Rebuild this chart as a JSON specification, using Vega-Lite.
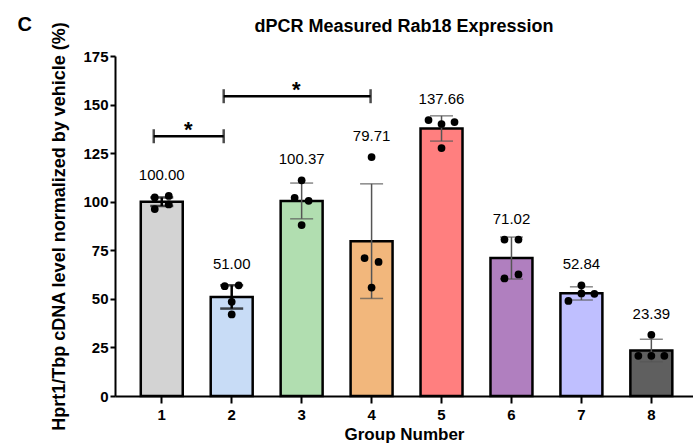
{
  "$schema": "https://vega.github.io/schema/vega-lite/v6.json",
  "width": 578,
  "height": 340,
  "autosize": {"type": "none"},
  "padding": {"left": 115, "top": 56, "right": 0, "bottom": 48},
  "background": "white",
  "title": {"text": "dPCR Measured Rab18 Expression", "font": "Liberation Sans", "fontSize": 18, "fontWeight": "bold", "color": "black", "anchor": "middle", "frame": "group", "offset": -35, "baseline": "alphabetic"},
  "config": {
    "view": {"stroke": null},
    "axis": {"labelFont": "Liberation Sans", "titleFont": "Liberation Sans", "labelColor": "black", "titleColor": "black", "domainColor": "black", "tickColor": "black", "grid": false}
  },
  "datasets": {
    "summary": [
      {"group": 1, "mean": 100.00, "lo": 97.8, "hi": 102.2},
      {"group": 2, "mean": 51.00, "lo": 45.0, "hi": 57.0},
      {"group": 3, "mean": 100.37, "lo": 91.2, "hi": 109.6},
      {"group": 4, "mean": 79.71, "lo": 50.2, "hi": 109.2},
      {"group": 5, "mean": 137.66, "lo": 131.2, "hi": 144.2},
      {"group": 6, "mean": 71.02, "lo": 60.2, "hi": 81.8},
      {"group": 7, "mean": 52.84, "lo": 49.4, "hi": 56.2},
      {"group": 8, "mean": 23.39, "lo": 17.6, "hi": 29.2}
    ],
    "points": [
      {"group": 1, "value": 102.2, "slot": -1},
      {"group": 1, "value": 103.0, "slot": 1},
      {"group": 1, "value": 96.2, "slot": -1},
      {"group": 1, "value": 98.6, "slot": 1},
      {"group": 2, "value": 56.5, "slot": -1},
      {"group": 2, "value": 57.0, "slot": 1},
      {"group": 2, "value": 48.5, "slot": 0},
      {"group": 2, "value": 42.0, "slot": 0},
      {"group": 3, "value": 111.0, "slot": 0},
      {"group": 3, "value": 102.0, "slot": -1},
      {"group": 3, "value": 100.48, "slot": 1},
      {"group": 3, "value": 88.0, "slot": 0},
      {"group": 4, "value": 123.0, "slot": 0},
      {"group": 4, "value": 71.0, "slot": -1},
      {"group": 4, "value": 69.0, "slot": 1},
      {"group": 4, "value": 55.84, "slot": 0},
      {"group": 5, "value": 142.0, "slot": -2},
      {"group": 5, "value": 140.0, "slot": 0},
      {"group": 5, "value": 141.0, "slot": 2},
      {"group": 5, "value": 127.64, "slot": 0},
      {"group": 6, "value": 80.5, "slot": -1},
      {"group": 6, "value": 80.5, "slot": 1},
      {"group": 6, "value": 60.5, "slot": -1},
      {"group": 6, "value": 62.58, "slot": 1},
      {"group": 7, "value": 57.0, "slot": 0},
      {"group": 7, "value": 52.8, "slot": 0},
      {"group": 7, "value": 52.6, "slot": 2},
      {"group": 7, "value": 48.96, "slot": -2},
      {"group": 8, "value": 31.5, "slot": 0},
      {"group": 8, "value": 20.7, "slot": -2},
      {"group": 8, "value": 20.7, "slot": 0},
      {"group": 8, "value": 20.66, "slot": 2}
    ],
    "brackets": [
      {"cmp": "A", "from": 1, "to": 2, "y": 133.7, "sig": "*"},
      {"cmp": "B", "from": 2, "to": 4, "y": 154.3, "sig": "*"}
    ],
    "panel": [{"label": "C"}]
  },
  "layer": [
    {
      "data": {"name": "summary"},
      "mark": {"type": "bar", "stroke": "black", "strokeWidth": 2.5},
      "encoding": {
        "x": {"field": "group", "type": "ordinal",
              "scale": {"domain": [1, 2, 3, 4, 5, 6, 7, 8], "paddingInner": 0.4, "paddingOuter": 0.332, "align": 0.555},
              "axis": {"title": "Group Number", "titleFontSize": 17, "titleFontWeight": "bold", "labelFontSize": 15, "labelFontWeight": "bold", "labelAngle": 0, "tickSize": 7, "tickWidth": 2, "domainWidth": 2, "labelPadding": 4, "titlePadding": 4}},
        "y": {"field": "mean", "type": "quantitative",
              "scale": {"domain": [0, 175], "nice": false, "zero": true},
              "axis": {"title": "Hprt1/Tbp cDNA level normalized by vehicle (%)", "values": [0, 25, 50, 75, 100, 125, 150, 175], "titleFontSize": 18, "titleFontWeight": "bold", "labelFontSize": 15, "labelFontWeight": "bold", "tickSize": 5, "tickWidth": 2, "domainWidth": 2, "labelPadding": 2, "titlePadding": 14}},
        "color": {"field": "group", "type": "nominal", "legend": null,
                  "scale": {"domain": [1, 2, 3, 4, 5, 6, 7, 8], "range": ["#d3d3d3", "#c8dcf6", "#b1deb0", "#f2b77c", "#ff7f7f", "#b07fbf", "#bfbfff", "#5f5f5f"]}}
      }
    },
    {
      "data": {"name": "summary"},
      "transform": [{"filter": "datum.group <= 2"}],
      "mark": {"type": "rule", "color": "black", "strokeWidth": 2.5},
      "encoding": {
        "x": {"field": "group", "type": "ordinal"},
        "y": {"field": "lo", "type": "quantitative"},
        "y2": {"field": "hi"}
      }
    },
    {
      "data": {"name": "summary"},
      "transform": [{"filter": "datum.group > 2"}],
      "mark": {"type": "rule", "color": "#555555", "strokeWidth": 1.5},
      "encoding": {
        "x": {"field": "group", "type": "ordinal"},
        "y": {"field": "lo", "type": "quantitative"},
        "y2": {"field": "hi"}
      }
    },
    {
      "data": {"name": "summary"},
      "transform": [{"filter": "datum.group <= 2"}, {"fold": ["lo", "hi"], "as": ["end", "val"]}],
      "mark": {"type": "tick", "color": "black", "thickness": 2.5, "size": 23, "orient": "horizontal"},
      "encoding": {
        "x": {"field": "group", "type": "ordinal"},
        "y": {"field": "val", "type": "quantitative"}
      }
    },
    {
      "data": {"name": "summary"},
      "transform": [{"filter": "datum.group > 2"}, {"fold": ["lo", "hi"], "as": ["end", "val"]}],
      "mark": {"type": "tick", "color": "#555555", "thickness": 1.5, "size": 23, "orient": "horizontal"},
      "encoding": {
        "x": {"field": "group", "type": "ordinal"},
        "y": {"field": "val", "type": "quantitative"}
      }
    },
    {
      "data": {"name": "points"},
      "transform": [{"filter": "datum.slot == -2"}],
      "mark": {"type": "point", "filled": true, "color": "black", "size": 60, "opacity": 1, "xOffset": -13},
      "encoding": {
        "x": {"field": "group", "type": "ordinal"},
        "y": {"field": "value", "type": "quantitative"}
      }
    },
    {
      "data": {"name": "points"},
      "transform": [{"filter": "datum.slot == -1"}],
      "mark": {"type": "point", "filled": true, "color": "black", "size": 60, "opacity": 1, "xOffset": -7},
      "encoding": {
        "x": {"field": "group", "type": "ordinal"},
        "y": {"field": "value", "type": "quantitative"}
      }
    },
    {
      "data": {"name": "points"},
      "transform": [{"filter": "datum.slot == 0"}],
      "mark": {"type": "point", "filled": true, "color": "black", "size": 60, "opacity": 1},
      "encoding": {
        "x": {"field": "group", "type": "ordinal"},
        "y": {"field": "value", "type": "quantitative"}
      }
    },
    {
      "data": {"name": "points"},
      "transform": [{"filter": "datum.slot == 1"}],
      "mark": {"type": "point", "filled": true, "color": "black", "size": 60, "opacity": 1, "xOffset": 7},
      "encoding": {
        "x": {"field": "group", "type": "ordinal"},
        "y": {"field": "value", "type": "quantitative"}
      }
    },
    {
      "data": {"name": "points"},
      "transform": [{"filter": "datum.slot == 2"}],
      "mark": {"type": "point", "filled": true, "color": "black", "size": 60, "opacity": 1, "xOffset": 13},
      "encoding": {
        "x": {"field": "group", "type": "ordinal"},
        "y": {"field": "value", "type": "quantitative"}
      }
    },
    {
      "data": {"name": "points"},
      "transform": [{"aggregate": [{"op": "mean", "field": "value", "as": "m"}, {"op": "max", "field": "value", "as": "top"}], "groupby": ["group"]}],
      "mark": {"type": "text", "font": "Liberation Sans", "fontSize": 15, "color": "black", "baseline": "middle", "dy": -21},
      "encoding": {
        "x": {"field": "group", "type": "ordinal"},
        "y": {"field": "top", "type": "quantitative"},
        "text": {"field": "m", "type": "quantitative", "format": ".2f"}
      }
    },
    {
      "data": {"name": "brackets"},
      "transform": [{"filter": "datum.cmp == 'A'"}],
      "mark": {"type": "rule", "color": "black", "strokeWidth": 2.5, "xOffset": -8, "x2Offset": -8},
      "encoding": {
        "x": {"field": "from", "type": "ordinal"},
        "x2": {"field": "to"},
        "y": {"field": "y", "type": "quantitative"}
      }
    },
    {
      "data": {"name": "brackets"},
      "transform": [{"filter": "datum.cmp == 'A'"}, {"fold": ["from", "to"], "as": ["end", "g"]}],
      "mark": {"type": "tick", "color": "black", "thickness": 2.5, "size": 14, "orient": "vertical", "xOffset": -8},
      "encoding": {
        "x": {"field": "g", "type": "ordinal"},
        "y": {"field": "y", "type": "quantitative"}
      }
    },
    {
      "data": {"name": "brackets"},
      "transform": [{"filter": "datum.cmp == 'A'"}],
      "mark": {"type": "text", "font": "Liberation Sans", "fontSize": 22, "fontWeight": "bold", "color": "black", "baseline": "alphabetic", "dy": 1, "xOffset": 26.5},
      "encoding": {
        "x": {"field": "from", "type": "ordinal"},
        "y": {"field": "y", "type": "quantitative"},
        "text": {"field": "sig"}
      }
    },
    {
      "data": {"name": "brackets"},
      "transform": [{"filter": "datum.cmp == 'B'"}],
      "mark": {"type": "rule", "color": "black", "strokeWidth": 2.5, "xOffset": -8, "x2Offset": -1},
      "encoding": {
        "x": {"field": "from", "type": "ordinal"},
        "x2": {"field": "to"},
        "y": {"field": "y", "type": "quantitative"}
      }
    },
    {
      "data": {"name": "brackets"},
      "transform": [{"filter": "datum.cmp == 'B'"}],
      "mark": {"type": "tick", "color": "black", "thickness": 2.5, "size": 14, "orient": "vertical", "xOffset": -8},
      "encoding": {
        "x": {"field": "from", "type": "ordinal"},
        "y": {"field": "y", "type": "quantitative"}
      }
    },
    {
      "data": {"name": "brackets"},
      "transform": [{"filter": "datum.cmp == 'B'"}],
      "mark": {"type": "tick", "color": "black", "thickness": 2.5, "size": 14, "orient": "vertical", "xOffset": -1},
      "encoding": {
        "x": {"field": "to", "type": "ordinal"},
        "y": {"field": "y", "type": "quantitative"}
      }
    },
    {
      "data": {"name": "brackets"},
      "transform": [{"filter": "datum.cmp == 'B'"}],
      "mark": {"type": "text", "font": "Liberation Sans", "fontSize": 22, "fontWeight": "bold", "color": "black", "baseline": "alphabetic", "dy": 1, "xOffset": 64.5},
      "encoding": {
        "x": {"field": "from", "type": "ordinal"},
        "y": {"field": "y", "type": "quantitative"},
        "text": {"field": "sig"}
      }
    },
    {
      "data": {"name": "panel"},
      "mark": {"type": "text", "font": "Liberation Sans", "fontSize": 20, "fontWeight": "bold", "color": "black", "baseline": "middle", "align": "center", "dx": -137, "dy": -31},
      "encoding": {
        "x": {"datum": 1, "type": "ordinal"},
        "y": {"datum": 175, "type": "quantitative"},
        "text": {"field": "label"}
      }
    }
  ]
}
